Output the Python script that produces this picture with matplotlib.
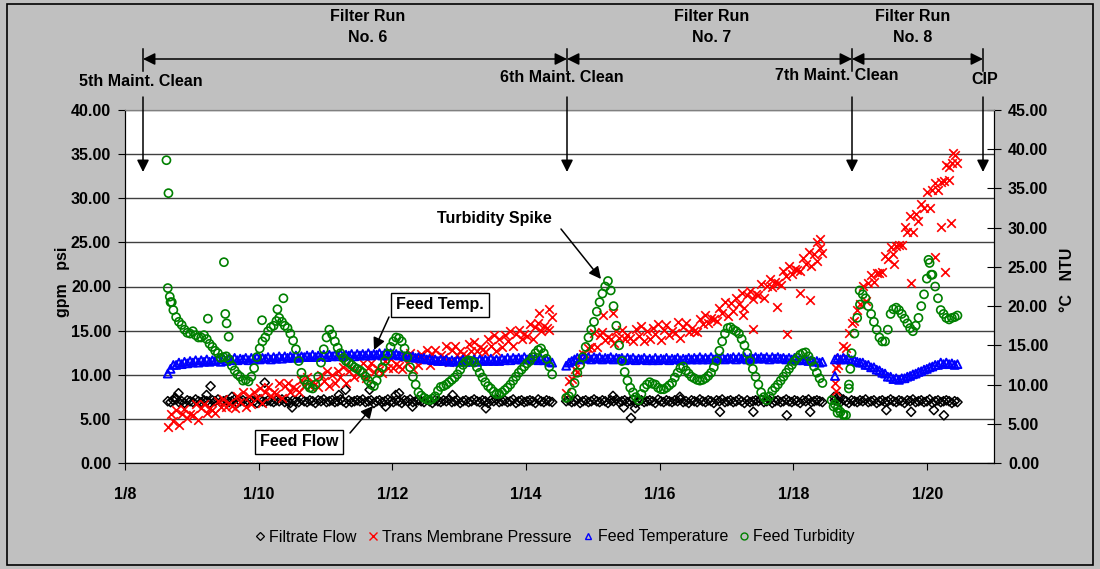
import numpy as np
import matplotlib.pyplot as plt
from matplotlib.lines import Line2D
from matplotlib.patches import Rectangle

plt.rcParams['font.family'] = ['Liberation Sans', 'DejaVu Sans']

# hourly readings, x = day of January
STEP = 1 / 24
run_start = [8.64, 14.60, 18.62]

# Filtrate Flow (gpm, left axis)
flow_run6 = [7.0, 6.9, 7.1, 7.2, 6.9, 7.0, 6.8, 7.1, 7.0, 6.9,
             7.2, 7.0, 6.9, 7.1, 7.0, 6.8, 7.1, 7.0, 7.2, 6.9,
             7.0, 7.1, 6.9, 7.0, 7.2, 6.8, 7.0, 7.1, 6.9, 7.0,
             7.1, 7.0, 6.8, 7.2, 7.0, 6.9, 7.1, 7.0, 6.9, 7.1,
             7.0, 7.2, 6.9, 7.0, 6.8, 7.1, 7.0, 6.9, 7.2, 7.0,
             6.9, 7.1, 7.0, 6.8, 7.1, 7.0, 7.2, 6.9, 7.0, 7.1,
             6.9, 7.0, 7.2, 7.0, 6.8, 7.1, 6.9, 7.0, 7.1, 7.0,
             7.2, 6.9, 7.0, 7.1, 6.8, 7.0, 7.1, 6.9, 7.0, 7.2,
             7.0, 6.9, 7.1, 7.0, 6.8, 7.1, 7.0, 7.2, 6.9, 7.0,
             7.1, 7.0, 6.9, 7.2, 7.0, 6.8, 7.1, 7.0, 6.9, 7.1,
             7.0, 7.2, 6.9, 7.0, 7.1, 6.8, 7.0, 7.1, 6.9, 7.0,
             7.2, 7.0, 6.9, 7.1, 7.0, 6.8, 7.1, 7.0, 7.2, 6.9,
             7.0, 7.1, 6.9, 7.0, 7.2, 6.8, 7.0, 7.1, 6.9, 7.0,
             7.1, 7.0, 6.8, 7.2, 7.0, 6.9, 7.1, 7.0, 6.9]
flow_run7 = [7.0, 7.1, 6.9, 7.0, 7.2, 6.8, 7.0, 7.1, 6.9, 7.0,
             7.2, 7.0, 6.9, 7.1, 7.0, 6.8, 7.1, 7.0, 7.2, 6.9,
             7.0, 7.1, 6.9, 7.0, 7.2, 6.8, 7.0, 7.1, 6.9, 7.0,
             7.1, 7.0, 6.8, 7.2, 7.0, 6.9, 7.1, 7.0, 6.9, 7.1,
             7.0, 7.2, 6.9, 7.0, 6.8, 7.1, 7.0, 6.9, 7.2, 7.0,
             6.9, 7.1, 7.0, 6.8, 7.1, 7.0, 7.2, 6.9, 7.0, 7.1,
             6.9, 7.0, 7.2, 7.0, 6.8, 7.1, 6.9, 7.0, 7.1, 7.0,
             7.2, 6.9, 7.0, 7.1, 6.8, 7.0, 7.1, 6.9, 7.0, 7.2,
             7.0, 6.9, 7.1, 7.0, 6.8, 7.1, 7.0, 7.2, 6.9, 7.0,
             7.1, 7.0, 6.9]
flow_run8 = [7.1, 7.0, 6.9, 7.2, 7.0, 6.8, 7.1, 7.0, 6.9, 7.1,
             7.0, 7.2, 6.9, 7.0, 7.1, 6.8, 7.0, 7.1, 6.9, 7.0,
             7.2, 7.0, 6.9, 7.1, 7.0, 6.8, 7.1, 7.0, 7.2, 6.9,
             7.0, 7.1, 6.9, 7.0, 7.2, 6.8, 7.0, 7.1, 6.9, 7.0,
             7.1, 7.0, 6.8, 7.0, 6.9]
flow_extra_day = [8.75, 8.80, 9.22, 9.28, 9.60, 10.09, 10.50, 11.20, 11.30, 11.66,
                  11.90, 12.05, 12.10, 12.30, 12.90, 13.40, 15.30, 15.46, 15.57, 15.63,
                  16.30, 16.90, 17.40, 17.90, 18.25, 18.61, 18.68, 19.39, 19.76, 20.10,
                  20.25]
flow_extra_val = [7.4, 7.9, 7.7, 8.7, 7.5, 9.1, 6.3, 7.7, 8.3, 8.3,
                  6.4, 7.7, 7.9, 6.4, 7.7, 6.2, 7.6, 6.3, 5.1, 6.2,
                  7.5, 5.8, 5.8, 5.4, 5.8, 7.5, 7.5, 6.0, 5.8, 6.0,
                  5.4]

# Trans Membrane Pressure (psi, left axis)
tmp_run6 = [4.1, 5.5, 4.8, 6.0, 4.3, 5.6, 6.1, 5.1, 5.6, 5.4,
            6.7, 4.9, 6.2, 6.7, 5.7, 6.2, 6.0, 5.7, 7.0, 6.3,
            7.3, 6.3, 6.8, 6.5, 6.2, 7.6, 6.9, 8.1, 6.3, 7.6,
            6.7, 8.1, 7.4, 8.5, 6.8, 8.1, 8.6, 7.6, 8.0, 7.8,
            9.1, 7.4, 8.7, 9.1, 8.1, 8.6, 8.4, 8.1, 9.4, 8.7,
            9.7, 8.7, 9.2, 8.9, 8.6, 10.0, 9.3, 10.4, 8.7, 10.0,
            9.1, 10.4, 9.7, 10.9, 9.1, 10.4, 10.8, 9.8, 10.3, 10.0,
            11.3, 9.6, 10.8, 11.3, 10.3, 10.8, 10.5, 10.2, 11.6, 10.8,
            11.8, 10.8, 11.2, 11.0, 10.7, 12.0, 11.3, 12.5, 10.7, 12.0,
            11.1, 12.4, 11.7, 12.8, 11.1, 12.4, 12.8, 11.8, 12.2, 12.0,
            13.3, 11.5, 12.8, 13.3, 12.2, 12.7, 12.4, 12.1, 13.5, 12.7,
            13.7, 12.7, 13.2, 12.9, 12.6, 14.0, 13.3, 14.5, 12.7, 14.0,
            13.1, 14.5, 13.8, 15.0, 13.3, 14.6, 15.1, 14.1, 14.6, 14.4,
            15.7, 14.0, 15.4, 15.9, 15.0, 15.5, 15.3, 15.1, 16.5]
tmp_run7 = [7.9, 9.3, 9.5, 10.7, 10.3, 11.6, 12.4, 12.2, 13.0, 13.2,
            14.7, 13.1, 14.5, 14.9, 13.9, 14.3, 14.0, 13.6, 15.0, 14.2,
            15.1, 14.1, 14.5, 14.2, 13.8, 15.2, 14.4, 15.5, 13.8, 15.0,
            14.0, 15.3, 14.6, 15.7, 13.9, 15.1, 15.6, 14.5, 15.0, 14.7,
            16.0, 14.2, 15.4, 15.9, 14.8, 15.3, 15.0, 14.8, 16.3, 15.7,
            16.8, 15.9, 16.4, 16.3, 16.1, 17.6, 17.0, 18.3, 16.7, 18.1,
            17.2, 18.7, 18.0, 19.3, 17.6, 19.0, 19.5, 18.6, 19.1, 19.0,
            20.3, 18.7, 20.1, 20.8, 19.9, 20.5, 20.4, 20.2, 21.7, 21.2,
            22.3, 21.4, 22.0, 21.9, 21.7, 23.2, 22.6, 23.9, 22.3, 23.7,
            22.9, 24.4, 23.8]
tmp_run8 = [9.1, 11.1, 11.9, 13.3, 13.0, 14.7, 15.9, 16.1, 17.3, 18.0,
            20.1, 18.4, 20.4, 21.3, 20.5, 21.5, 21.5, 21.6, 23.5, 23.1,
            24.5, 23.7, 24.6, 24.7, 24.7, 26.7, 26.2, 28.0, 26.2, 28.2,
            27.4, 29.4, 28.9, 30.7, 28.9, 30.9, 31.7, 30.9, 31.8, 31.9,
            33.8, 32.1, 34.0, 34.9, 34.0]
tmp_extra_day = [14.20, 14.35, 15.15, 15.30, 17.25, 17.40, 17.75, 17.90, 18.10, 18.25,
                 18.35, 18.40, 18.63, 18.64, 19.50, 19.76, 20.12, 20.20, 20.27, 20.33,
                 20.36, 20.39]
tmp_extra_val = [17.0, 17.4, 16.8, 17.0, 16.8, 15.2, 17.7, 14.6, 19.3, 18.5,
                 25.0, 25.4, 10.8, 8.2, 22.5, 20.4, 23.3, 26.7, 21.6, 33.5,
                 27.2, 35.1]

# Feed Temperature (deg C, right axis)
temp_run6 = [11.4, 12.0, 12.5, 12.5, 12.8, 12.6, 12.9, 12.7, 13.0, 12.8,
             13.1, 12.8, 13.1, 12.9, 13.2, 12.9, 13.1, 13.0, 13.2, 12.9,
             13.3, 13.0, 13.3, 13.1, 13.4, 13.1, 13.3, 13.2, 13.4, 13.1,
             13.4, 13.2, 13.5, 13.2, 13.4, 13.3, 13.5, 13.2, 13.5, 13.3,
             13.6, 13.3, 13.6, 13.4, 13.6, 13.4, 13.7, 13.4, 13.6, 13.5,
             13.7, 13.5, 13.8, 13.5, 13.7, 13.6, 13.8, 13.5, 13.8, 13.6,
             13.8, 13.6, 13.9, 13.6, 13.8, 13.7, 13.9, 13.6, 13.9, 13.7,
             13.9, 13.7, 14.0, 13.7, 13.9, 13.8, 14.0, 13.7, 14.0, 13.8,
             14.0, 13.8, 13.9, 13.7, 13.8, 13.6, 13.7, 13.5, 13.6, 13.4,
             13.5, 13.3, 13.4, 13.2, 13.3, 13.1, 13.2, 13.0, 13.2, 13.0,
             13.2, 12.9, 13.1, 12.9, 13.1, 12.9, 13.2, 12.9, 13.1, 12.9,
             13.2, 12.9, 13.2, 13.0, 13.2, 13.0, 13.3, 13.0, 13.2, 13.0,
             13.3, 13.1, 13.4, 13.1, 13.4, 13.2, 13.4, 13.2, 13.5, 13.2,
             13.4, 13.2, 13.4, 13.1, 13.3, 13.1, 13.2, 12.9, 12.8]
temp_run7 = [12.4, 12.8, 13.0, 13.2, 13.4, 13.2, 13.5, 13.3, 13.5, 13.2,
             13.5, 13.3, 13.5, 13.2, 13.4, 13.3, 13.5, 13.2, 13.4, 13.3,
             13.4, 13.1, 13.4, 13.2, 13.4, 13.1, 13.3, 13.2, 13.4, 13.1,
             13.3, 13.1, 13.4, 13.1, 13.3, 13.2, 13.4, 13.1, 13.3, 13.2,
             13.4, 13.1, 13.3, 13.2, 13.4, 13.2, 13.4, 13.2, 13.5, 13.2,
             13.4, 13.2, 13.5, 13.2, 13.4, 13.3, 13.5, 13.2, 13.4, 13.3,
             13.5, 13.2, 13.5, 13.3, 13.5, 13.2, 13.4, 13.3, 13.5, 13.3,
             13.5, 13.3, 13.5, 13.2, 13.5, 13.3, 13.5, 13.3, 13.4, 13.2,
             13.4, 13.2, 13.4, 13.1, 13.3, 13.1, 13.2, 13.0, 13.1, 12.9,
             13.0, 12.8, 12.9]
temp_run8 = [13.2, 13.4, 13.2, 13.4, 13.2, 13.3, 13.1, 13.1, 12.9, 12.8,
             12.8, 12.5, 12.5, 12.2, 12.2, 11.9, 11.8, 11.5, 11.4, 11.0,
             11.0, 10.7, 10.8, 10.6, 10.8, 10.8, 11.0, 11.1, 11.3, 11.4,
             11.6, 11.7, 11.9, 12.0, 12.2, 12.3, 12.5, 12.5, 12.8, 12.6,
             12.8, 12.6, 12.7, 12.5, 12.6]
temp_extra_day = [18.62]
temp_extra_val = [11.1]

# Feed Turbidity (NTU, right axis)
turb_run6 = [22.3, 20.5, 19.5, 18.6, 18.0, 17.6, 17.0, 16.6, 16.5, 16.8,
             16.3, 16.0, 16.0, 16.3, 15.8, 15.2, 14.8, 14.3, 14.0, 13.4,
             13.5, 13.6, 13.2, 12.4, 11.8, 11.3, 11.0, 10.5, 10.6, 10.4,
             11.0, 12.1, 13.5, 14.6, 15.5, 16.0, 16.8, 17.3, 17.5, 18.1,
             18.5, 18.0, 17.5, 17.2, 16.5, 15.6, 14.5, 13.0, 11.5, 10.6,
             10.0, 9.6, 9.5, 10.0, 11.0, 12.8, 14.5, 16.0, 17.0, 16.4,
             15.5, 14.7, 14.0, 13.4, 13.0, 12.8, 12.5, 12.2, 12.0, 11.8,
             11.5, 11.0, 10.5, 10.0, 9.8, 10.5, 11.5, 12.2, 13.0, 13.9,
             14.8, 15.5, 16.0, 15.9, 15.5, 14.6, 13.5, 12.2, 11.0, 10.0,
             9.0, 8.6, 8.3, 8.1, 8.0, 8.2, 8.5, 9.2, 9.7, 9.8,
             10.0, 10.3, 10.6, 10.9, 11.3, 11.9, 12.5, 12.9, 13.1, 13.0,
             12.8, 12.2, 11.5, 10.9, 10.3, 9.8, 9.5, 9.1, 8.8, 8.8,
             9.0, 9.3, 9.6, 10.0, 10.5, 11.0, 11.5, 11.9, 12.3, 12.7,
             13.0, 13.5, 14.0, 14.4, 14.6, 14.0, 13.3, 12.3, 11.3]
turb_run7 = [8.3, 8.5, 9.0, 10.2, 11.5, 12.5, 13.5, 14.8, 16.0, 17.0,
             18.0, 19.3, 20.5, 21.6, 22.5, 23.2, 22.0, 20.0, 17.5, 15.0,
             13.0, 11.6, 10.5, 9.6, 9.0, 8.4, 8.0, 8.8, 9.6, 10.0,
             10.3, 10.1, 10.0, 9.6, 9.4, 9.4, 9.6, 9.9, 10.2, 10.9,
             11.5, 12.1, 12.3, 11.8, 11.4, 11.0, 10.8, 10.6, 10.5, 10.6,
             10.8, 11.1, 11.5, 12.2, 13.0, 14.3, 15.5, 16.5, 17.2, 17.3,
             17.0, 16.8, 16.5, 15.8, 15.0, 14.0, 13.0, 12.0, 11.0, 10.0,
             9.0, 8.4, 8.0, 8.5, 9.2, 9.6, 10.0, 10.5, 11.0, 11.5,
             12.0, 12.5, 13.0, 13.4, 13.8, 14.0, 14.1, 13.6, 13.0, 12.3,
             11.5, 10.8, 10.2]
turb_run8 = [7.5, 7.0, 6.5, 6.2, 6.1, 9.5, 14.0, 16.5, 18.5, 20.2,
             21.5, 21.0, 20.0, 19.0, 18.0, 17.0, 16.0, 15.5, 15.5, 17.0,
             19.0, 19.6, 19.8, 19.5, 19.0, 18.4, 17.8, 17.2, 16.8, 17.5,
             18.5, 20.0, 21.5, 23.5, 25.5, 24.0, 22.5, 21.0, 19.5, 19.0,
             18.5, 18.3, 18.5, 18.6, 18.8]
turb_extra_day = [8.62, 8.65, 8.67, 8.70, 9.24, 9.48, 9.50, 9.52, 9.55, 10.05,
                  10.28, 10.37, 18.57, 18.60, 18.66, 18.75, 18.83, 18.85, 18.99, 20.02,
                  20.06]
turb_extra_val = [38.6, 34.4, 21.2, 20.5, 18.4, 25.6, 19.0, 17.8, 16.1, 18.2,
                  19.6, 21.0, 8.0, 7.2, 6.4, 6.1, 10.0, 12.0, 22.0, 25.9,
                  24.0]

x_tick_days = [8, 10, 12, 14, 16, 18, 20]
x_tick_labels = ['1/8', '1/10', '1/12', '1/14', '1/16', '1/18', '1/20']


def series(runs, extra_day, extra_val):
    days, vals = [], []
    for start, v in zip(run_start, runs):
        days.extend(start + np.arange(len(v)) * STEP)
        vals.extend(v)
    return np.array(days + list(extra_day)), np.array(vals + list(extra_val))


flow_x, flow_y = series([flow_run6, flow_run7, flow_run8], flow_extra_day, flow_extra_val)
tmp_x, tmp_y = series([tmp_run6, tmp_run7, tmp_run8], tmp_extra_day, tmp_extra_val)
temp_x, temp_y = series([temp_run6, temp_run7, temp_run8], temp_extra_day, temp_extra_val)
turb_x, turb_y = series([turb_run6, turb_run7, turb_run8], turb_extra_day, turb_extra_val)

W, H = 1100, 569
FS = 11.5
fig = plt.figure(figsize=(W / 100, H / 100), dpi=100, facecolor='#c0c0c0')
fig.patches.append(Rectangle((7 / W, 4 / H), 1086 / W, 561 / H, transform=fig.transFigure,
                             fill=False, edgecolor='black', lw=1.2))

ax = fig.add_axes([125 / W, 1 - 463 / H, 869 / W, 353 / H])
ax.set_facecolor('white')
ax2 = ax.twinx()

ax.scatter(flow_x, flow_y, marker='D', s=22, facecolors='none', edgecolors='black', linewidths=1.1)
ax.scatter(tmp_x, tmp_y, marker='x', s=38, color='red', linewidths=1.2)
ax2.scatter(temp_x, temp_y, marker='^', s=32, facecolors='none', edgecolors='blue', linewidths=1.4)
ax2.scatter(turb_x, turb_y, marker='o', s=34, facecolors='none', edgecolors='#008000', linewidths=1.2)

ax.set_xlim(8, 21)
ax.set_ylim(0, 40)
ax2.set_ylim(0, 45)
ax.set_xticks(x_tick_days)
ax.set_xticklabels(x_tick_labels)
ax.set_yticks(np.arange(0, 41, 5))
ax.set_yticklabels([f'{v:.2f}' for v in np.arange(0, 41, 5)])
ax2.set_yticks(np.arange(0, 46, 5))
ax2.set_yticklabels([f'{v:.2f}' for v in np.arange(0, 46, 5)])
ax.grid(axis='y', color='#404040', lw=1)
ax.set_axisbelow(True)
ax.tick_params(axis='x', direction='out', length=5, pad=12, labelsize=FS)
ax.tick_params(axis='y', direction='out', length=5, pad=5, labelsize=FS)
ax2.tick_params(axis='y', direction='inout', length=10, pad=5, labelsize=FS)
for lab in ax.get_xticklabels() + ax.get_yticklabels() + ax2.get_yticklabels():
    lab.set_fontweight('bold')
for a in (ax, ax2):
    for side in ('left', 'bottom', 'right'):
        a.spines[side].set_color('black')
    a.spines['top'].set_color('#808080')

fig.text(62 / W, 1 - 282 / H, 'gpm   psi', rotation=90, ha='center', va='center',
         fontsize=FS, fontweight='bold')
fig.text(1067 / W, 1 - 280 / H, '°C   NTU', rotation=90, ha='center', va='center',
         fontsize=FS, fontweight='bold')


def fp(x, y):
    return (x, H - y)


def arrow(tail, tip, style='-|>'):
    ax2.annotate('', xy=fp(*tip), xytext=fp(*tail), xycoords='figure pixels',
                 textcoords='figure pixels', annotation_clip=False,
                 arrowprops=dict(arrowstyle=style, color='black', lw=1.1,
                                 mutation_scale=18, shrinkA=0, shrinkB=0))


def label(x, y, s, **kw):
    fig.text(x / W, 1 - y / H, s, ha='center', va='center', fontsize=FS,
             fontweight='bold', **kw)


# filter run spans
for x0, x1 in [(143, 567), (567, 852), (852, 983)]:
    arrow((x0, 59), (x1, 59), '<|-|>')
for x in [143, 567, 852, 983]:
    fig.add_artist(Line2D([x / W, x / W], [1 - 49 / H, 1 - 71 / H], color='black', lw=1.1,
                          transform=fig.transFigure))
    arrow((x, 97), (x, 172))

label(368, 27, 'Filter Run\nNo. 6', linespacing=1.5)
label(712, 27, 'Filter Run\nNo. 7', linespacing=1.5)
label(913, 27, 'Filter Run\nNo. 8', linespacing=1.5)
label(141, 81, '5th Maint. Clean')
label(562, 77, '6th Maint. Clean')
label(837, 76, '7th Maint. Clean')
label(985, 80, 'CIP')

label(494, 218, 'Turbidity Spike')
arrow((561, 229), (601, 279))
label(440, 305, 'Feed Temp.', bbox=dict(boxstyle='square,pad=0.3', fc='white', ec='black', lw=1))
arrow((389, 317), (374, 350))
label(299, 442, 'Feed Flow', bbox=dict(boxstyle='square,pad=0.3', fc='white', ec='black', lw=1))
arrow((350, 433), (373, 406))

handles = [
    Line2D([], [], ls='none', marker='D', ms=4, mfc='none', mec='black', mew=0.9),
    Line2D([], [], ls='none', marker='x', ms=6, color='red', mew=1.0),
    Line2D([], [], ls='none', marker='^', ms=5, mfc='none', mec='blue', mew=1.0),
    Line2D([], [], ls='none', marker='o', ms=5, mfc='none', mec='#008000', mew=1.0),
]
labels = ['Filtrate Flow', 'Trans Membrane Pressure', 'Feed Temperature', 'Feed Turbidity']
fig.legend(handles, labels, loc='center', bbox_to_anchor=(555 / W, 1 - 537 / H), ncol=4,
           frameon=False, fontsize=FS, handlelength=0.6, handletextpad=0.3,
           columnspacing=0.7, borderaxespad=0)

fig.savefig('out.png', dpi=100, facecolor=fig.get_facecolor())
